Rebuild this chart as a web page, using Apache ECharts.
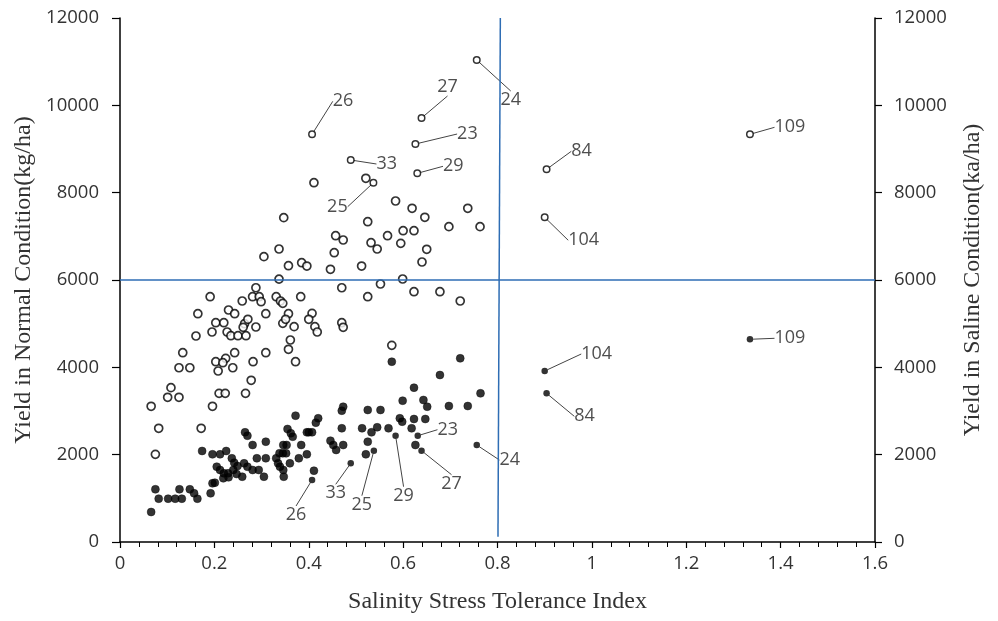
<!DOCTYPE html>
<html>
<head>
<meta charset="utf-8">
<script src="https://cdn.jsdelivr.net/npm/echarts@6/dist/echarts.min.js"></script>
<style>html,body{margin:0;padding:0;background:#fff}#c{width:998px;height:621px}</style>
</head>
<body>
<div id="c"></div>
<script>
// ---- Data ----
const xTicks = ['0','0.2','0.4','0.6','0.8','1','1.2','1.4','1.6'];
const yTicks = [0,2000,4000,6000,8000,10000,12000];

// Normal condition (open circles): STI and yield
const normalSTI = [0.337,0.288,0.191,0.281,0.295,0.299,0.259,0.331,0.340,0.345,0.383,0.165,0.230,0.243,0.309,0.357,0.195,0.203,0.220,0.227,0.235,0.250,0.267,0.264,0.271,0.261,0.288,0.345,0.351,0.369,0.161,0.133,0.125,0.148,0.203,0.224,0.208,0.218,0.243,0.239,0.282,0.309,0.357,0.361,0.372,0.278,0.108,0.101,0.125,0.210,0.223,0.266,0.196,0.066,0.082,0.172,0.075,
  0.599,0.470,0.552,0.525,0.623,0.678,0.721,0.407,0.400,0.413,0.418,0.470,0.473,0.576,
  0.411,0.521,0.584,0.619,0.737,0.646,0.525,0.697,0.763,0.600,0.623,0.567,0.457,0.473,0.532,0.545,0.595,0.650,0.454,0.640,0.512,0.446,0.385,0.396,
  0.347,0.337,0.305,0.357];
const normalYield = [6020,5823,5617,5617,5617,5503,5519,5617,5519,5466,5617,5228,5313,5228,5228,5228,4809,5022,5022,4809,4724,4724,4724,4999,5100,4917,4924,5008,5100,4931,4717,4335,3991,3991,4129,4206,3916,4106,4335,3991,4129,4335,4413,4626,4129,3703,3534,3314,3314,3405,3405,3405,3108,3108,2604,2604,2008,
  6023,5823,5908,5617,5732,5732,5519,5237,5100,4931,4809,5022,4917,4504,
  8228,8329,7809,7642,7642,7436,7335,7221,7221,7129,7129,7014,7014,6916,6854,6710,6840,6703,6625,6412,6320,6245,6396,6320,
  7427,6710,6534,6327];

// Saline condition (filled circles): STI and yield
const salineSTI = [0.372,0.265,0.270,0.309,0.281,0.355,0.362,0.366,0.346,0.353,0.384,0.396,0.174,0.196,0.212,0.225,0.237,0.242,0.249,0.263,0.270,0.290,0.309,0.281,0.294,0.305,0.331,0.338,0.345,0.352,0.335,0.339,0.360,0.379,0.347,0.346,0.205,0.212,0.220,0.229,0.219,0.230,0.240,0.247,0.259,0.196,0.201,0.192,0.075,0.082,0.102,0.117,0.131,0.126,0.148,0.157,0.164,0.066,
  0.576,0.721,0.678,0.623,0.764,0.599,0.643,0.651,0.697,0.737,0.473,0.470,0.525,0.552,0.420,0.415,0.593,0.598,0.623,0.647,0.407,0.400,0.470,0.513,0.545,0.533,0.569,0.618,0.446,0.452,0.458,0.473,0.525,0.521,0.626,0.396,0.411];
const salineYield = [2893,2512,2434,2297,2221,2588,2489,2411,2221,2221,2221,2512,2084,2008,2008,2084,1917,1816,1740,1802,1724,1917,1917,1649,1649,1495,1917,2031,2031,2031,1802,1724,1802,1917,1495,1649,1724,1649,1573,1573,1459,1482,1649,1557,1495,1344,1358,1115,1207,992,992,992,992,1207,1207,1115,992,687,
  4129,4206,3824,3534,3405,3236,3252,3098,3114,3114,3098,3007,3023,3023,2833,2732,2833,2755,2817,2817,2512,2512,2604,2604,2627,2512,2604,2604,2320,2221,2107,2221,2297,2008,2221,2008,1633];

// Labelled genotypes
const labelIds        = ['23','24','25','26','27','29','33','84','104','109'];
const labelSTI        = [0.626,0.756,0.537,0.407,0.639,0.630,0.489,0.904,0.900,1.335];
const labelNormal     = [9114,11038,8228,9336,9710,8443,8748,8535,7436,9336];
const labelSalineSTI  = [0.631,0.756,0.538,0.407,0.639,0.584,0.489,0.904,0.900,1.335];
const labelSaline     = [2434,2221,2091,1420,2091,2434,1802,3405,3916,4642];

// reference lines
const refYield = 6000;
const refSTI = 0.803;

// label offsets in pixels (layout only)
const normalLabelOffset = [[52,-10],[34,40],[-36,24],[31,-33],[26,-31],[36,-7],[36,4],[35,-18],[39,23],[40,-7]];
const salineLabelOffset = [[30,-6],[33,15],[-12,54],[-16,35],[30,33],[8,60],[-15,30],[38,23],[52,-17],[40,-1]];

const zip = (a,b) => a.map((v,i)=>[v,b[i]]);

const sans = '"Open Sans", "DejaVu Sans", sans-serif';
const tickFont = {fontFamily:sans, fontSize:18.5, color:'#333'};
const titleFont = {fontFamily:'"Liberation Serif", "DejaVu Serif", serif', fontSize:24, color:'#333'};
const blue = '#2E6DB4';

const chart = echarts.init(document.getElementById('c'));
const labelCommon = {
  show:true, position:'inside',
  fontFamily:sans, fontSize:18, color:'#222',
  formatter: p => labelIds[p.dataIndex]
};
chart.setOption({
  animation:false,
  grid:{left:120, right:123, top:18, bottom:79},
  xAxis:{
    type:'value', min:0, max:1.6, interval:0.2,
    name:'Salinity Stress Tolerance Index', nameLocation:'middle', nameGap:48,
    nameTextStyle:titleFont,
    axisLine:{lineStyle:{color:'#000', width:1.5}},
    axisTick:{show:true, length:6, lineStyle:{color:'#000', width:1.2}},
    minorTick:{show:true, splitNumber:5, length:5, lineStyle:{color:'#000', width:1}},
    axisLabel:Object.assign({margin:12, formatter: (v)=> xTicks[Math.round(v/0.2)]}, tickFont),
    splitLine:{show:false}
  },
  yAxis:[{
    type:'value', min:0, max:12000, interval:2000, position:'left',
    name:'Yield in Normal Condition(kg/ha)', nameLocation:'middle', nameGap:82,
    nameTextStyle:titleFont,
    axisLine:{show:true, lineStyle:{color:'#000', width:1.5}},
    axisTick:{show:true, length:8, lineStyle:{color:'#000', width:1.2}},
    axisLabel:Object.assign({margin:21, formatter: v => String(v)}, tickFont),
    splitLine:{show:false}
  },{
    type:'value', min:0, max:12000, interval:2000, position:'right',
    name:'Yield in Saline Condition(ka/ha)', nameLocation:'middle', nameGap:86,
    nameTextStyle:titleFont,
    axisLine:{show:true, lineStyle:{color:'#000', width:1.5}},
    axisTick:{show:true, length:7, lineStyle:{color:'#000', width:1.2}},
    axisLabel:Object.assign({margin:19, formatter: v => String(v)}, tickFont),
    splitLine:{show:false}
  }],
  series:[
    {
      type:'scatter', yAxisIndex:0, symbol:'circle', symbolSize:8,
      itemStyle:{color:'#fff', borderColor:'#000', borderWidth:1.7},
      data: zip(normalSTI, normalYield),
      markLine:{
        silent:true, symbol:'none', animation:false,
        lineStyle:{color:blue, width:1.5, type:'solid'},
        label:{show:false},
        data:[
          [{coord:[0,refYield]},{coord:[1.6,refYield]}],
          [{coord:[refSTI+0.003,12000]},{coord:[refSTI-0.002,120]}]
        ]
      }
    },
    {
      type:'scatter', yAxisIndex:1, symbol:'circle', symbolSize:8,
      itemStyle:{color:'#000', borderColor:'#000', borderWidth:0.5},
      data: zip(salineSTI, salineYield)
    },
    {
      type:'scatter', yAxisIndex:0, symbol:'circle', symbolSize:6.5,
      itemStyle:{color:'#fff', borderColor:'#000', borderWidth:1.5},
      data: zip(labelSTI, labelNormal),
      label: labelCommon,
      labelLine:{show:true, lineStyle:{color:'#444', width:1}},
      labelLayout: p => ({dx: normalLabelOffset[p.dataIndex][0], dy: normalLabelOffset[p.dataIndex][1]})
    },
    {
      type:'scatter', yAxisIndex:1, symbol:'circle', symbolSize:6.5,
      itemStyle:{color:'#000'},
      data: zip(labelSalineSTI, labelSaline),
      label: labelCommon,
      labelLine:{show:true, lineStyle:{color:'#444', width:1}},
      labelLayout: p => ({dx: salineLabelOffset[p.dataIndex][0], dy: salineLabelOffset[p.dataIndex][1]})
    }
  ]
});
</script>
</body>
</html>
